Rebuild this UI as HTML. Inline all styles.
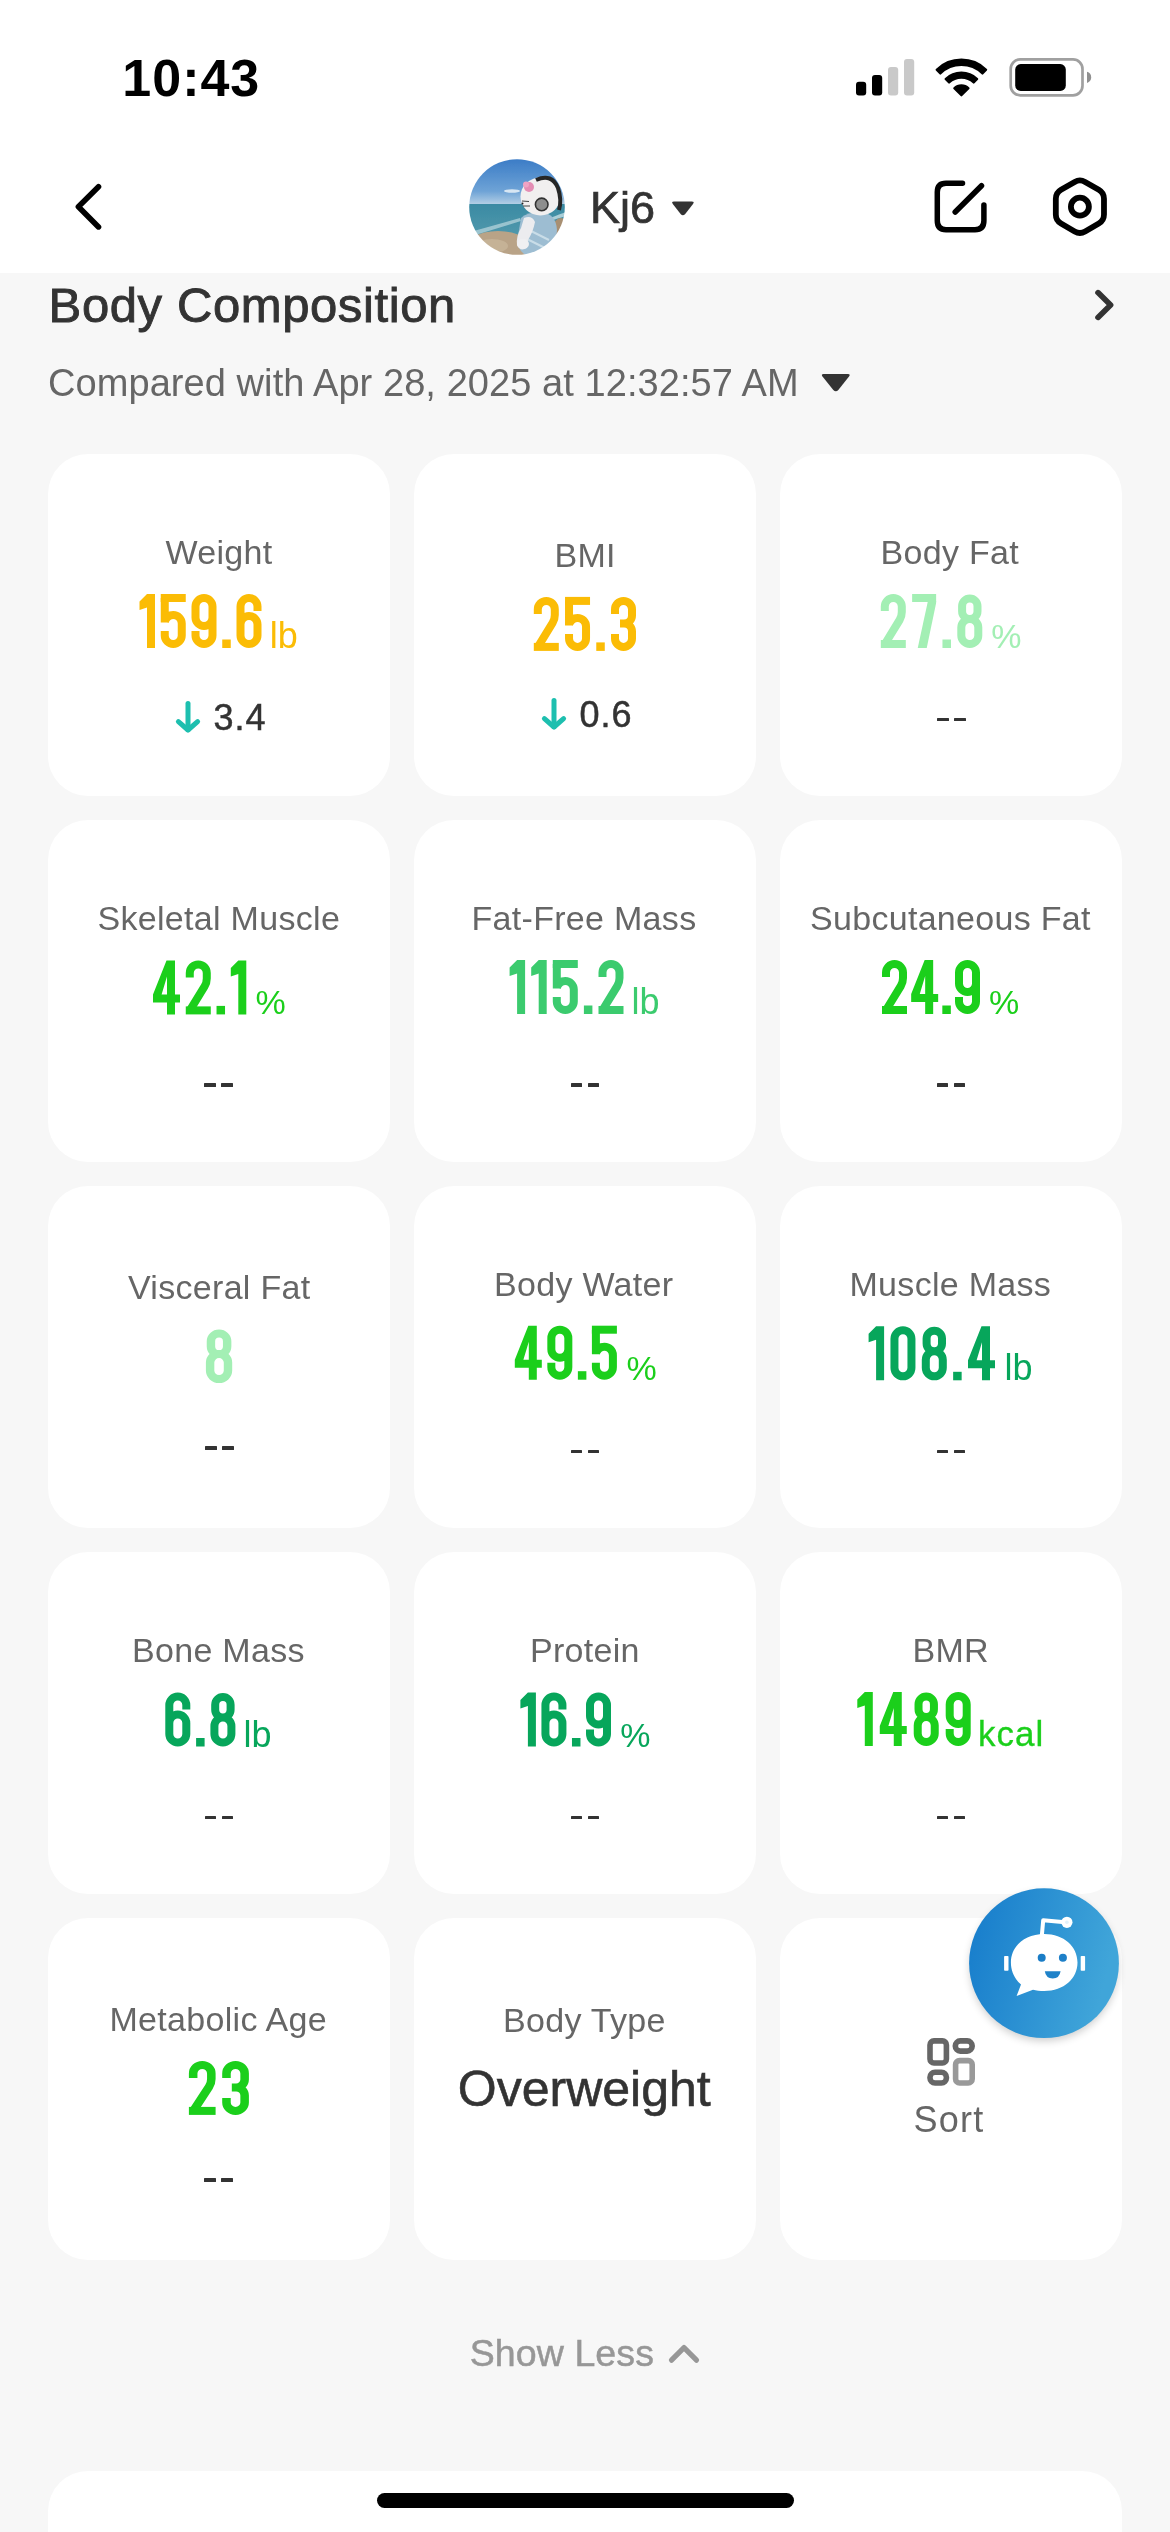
<!DOCTYPE html>
<html><head><meta charset="utf-8">
<style>
html,body{margin:0;padding:0;}
body{width:1170px;height:2532px;background:#F7F7F7;position:relative;overflow:hidden;font-family:"Liberation Sans",sans-serif;}
.t{position:absolute;white-space:nowrap;}
.card{position:absolute;width:342px;height:342px;background:#fff;border-radius:40px;}
.hdr{position:absolute;left:0;top:0;width:1170px;height:273px;background:#fff;}
.dash{position:absolute;width:11.5px;height:3.3px;background:#333;border-radius:0.5px;}
svg{position:absolute;overflow:visible;}
</style></head>
<body>
<div class="hdr"></div>
<div class="card" style="left:48px;top:454px"></div>
<div class="card" style="left:414px;top:454px"></div>
<div class="card" style="left:780px;top:454px"></div>
<div class="card" style="left:48px;top:820px"></div>
<div class="card" style="left:414px;top:820px"></div>
<div class="card" style="left:780px;top:820px"></div>
<div class="card" style="left:48px;top:1186px"></div>
<div class="card" style="left:414px;top:1186px"></div>
<div class="card" style="left:780px;top:1186px"></div>
<div class="card" style="left:48px;top:1552px"></div>
<div class="card" style="left:414px;top:1552px"></div>
<div class="card" style="left:780px;top:1552px"></div>
<div class="card" style="left:48px;top:1918px"></div>
<div class="card" style="left:414px;top:1918px"></div>
<div class="card" style="left:780px;top:1918px"></div>
<div class="card" style="left:48px;top:2471px;width:1074px;height:200px"></div>
<div class="dash" style="left:937.0px;top:717.95px"></div>
<div class="dash" style="left:954.0px;top:717.95px"></div>
<div class="dash" style="left:204.4px;top:1083.35px"></div>
<div class="dash" style="left:221.4px;top:1083.35px"></div>
<div class="dash" style="left:570.7px;top:1083.35px"></div>
<div class="dash" style="left:587.7px;top:1083.35px"></div>
<div class="dash" style="left:936.6px;top:1083.35px"></div>
<div class="dash" style="left:953.6px;top:1083.35px"></div>
<div class="dash" style="left:205.0px;top:1446.35px"></div>
<div class="dash" style="left:222.0px;top:1446.35px"></div>
<div class="dash" style="left:570.8px;top:1449.95px"></div>
<div class="dash" style="left:587.8px;top:1449.95px"></div>
<div class="dash" style="left:936.7px;top:1449.95px"></div>
<div class="dash" style="left:953.7px;top:1449.95px"></div>
<div class="dash" style="left:204.6px;top:1815.75px"></div>
<div class="dash" style="left:221.6px;top:1815.75px"></div>
<div class="dash" style="left:570.9px;top:1815.75px"></div>
<div class="dash" style="left:587.9px;top:1815.75px"></div>
<div class="dash" style="left:936.8px;top:1815.75px"></div>
<div class="dash" style="left:953.8px;top:1815.75px"></div>
<div class="dash" style="left:204.4px;top:2178.35px"></div>
<div class="dash" style="left:221.4px;top:2178.35px"></div>
<svg width="1170" height="2532" style="left:0;top:0" viewBox="0 0 1170 2532"><rect x="856" y="81.8" width="10.2" height="13.7" rx="3" fill="#000"/><rect x="872" y="75" width="10.2" height="20.5" rx="3" fill="#000"/><rect x="888" y="67" width="10.2" height="28.5" rx="3" fill="#C9C9C9"/><rect x="904" y="59" width="10.2" height="36.5" rx="3" fill="#C9C9C9"/><path d="M936.67,69.69 A35.6,35.6 0 0 1 986.13,69.69 L982.45,73.50 A30.3,30.3 0 0 0 940.35,73.50 Z M945.63,78.97 A22.7,22.7 0 0 1 977.17,78.97 L973.70,82.57 A17.7,17.7 0 0 0 949.10,82.57 Z" fill="#000" stroke="#000" stroke-width="2.2" stroke-linejoin="round"/><path d="M961.4,95.3 L954.3,88.2 A10,10 0 0 1 968.5,88.2 Z" fill="#000" stroke="#000" stroke-width="2.2" stroke-linejoin="round"/><rect x="1010.7" y="59.4" width="71.8" height="35.9" rx="9.5" fill="none" stroke="#A0A0A0" stroke-width="2.7"/><rect x="1015.2" y="64.1" width="50.6" height="26.8" rx="5.5" fill="#000"/><path d="M1087,71.8 Q1091.2,73 1091.2,77.3 Q1091.2,81.6 1087,82.9 Z" fill="#909090"/><path d="M98.5,186.8 L78.4,206.8 L98.5,226.9" fill="none" stroke="#000" stroke-width="5.6" stroke-linecap="round" stroke-linejoin="round"/><defs><clipPath id="avc"><circle cx="517" cy="207" r="47.8"/></clipPath>
<linearGradient id="sky" x1="0" y1="0" x2="0" y2="1"><stop offset="0" stop-color="#3B7CC6"/><stop offset="0.7" stop-color="#6EA3D6"/><stop offset="1" stop-color="#B7D1E6"/></linearGradient>
<linearGradient id="sea" x1="0" y1="0" x2="0" y2="1"><stop offset="0" stop-color="#3A8AA3"/><stop offset="1" stop-color="#5FA2B2"/></linearGradient>
<linearGradient id="fab" x1="0" y1="0" x2="1" y2="0.25"><stop offset="0" stop-color="#157BCB"/><stop offset="1" stop-color="#40A5D9"/></linearGradient>
<filter id="avblur" x="-10%" y="-10%" width="120%" height="120%"><feGaussianBlur stdDeviation="0.7"/></filter><filter id="blur6" x="-30%" y="-30%" width="160%" height="160%"><feGaussianBlur stdDeviation="4.5"/></filter>
</defs>
<g clip-path="url(#avc)"><g filter="url(#avblur)">
<rect x="469" y="159" width="96" height="46" fill="url(#sky)"/>
<rect x="469" y="204" width="96" height="52" fill="url(#sea)"/>
<ellipse cx="512" cy="191" rx="8" ry="1.8" fill="#EAF2F8" opacity="0.85"/>
<path d="M470,232 Q492,226 520,218 L521,221 Q495,229 472,236 Z" fill="#CFE3E8" opacity="0.6"/>
<path d="M550,218 Q560,214 566,212 L566,216 Q556,219 550,221 Z" fill="#D7E8EC" opacity="0.7"/>
<ellipse cx="498" cy="252" rx="36" ry="21" fill="#B9A387"/>
<ellipse cx="492" cy="246" rx="16" ry="7" fill="#CBB89C" opacity="0.7"/>
<ellipse cx="561" cy="228" rx="8" ry="10" fill="#A88F72"/>
<path d="M521,218 Q526,212 542,212 Q556,214 557,230 L555,250 Q540,260 524,254 Q516,248 518,236 Z" fill="#9DBDD2"/>
<path d="M529,230 L549,240 M527,239 L547,249" stroke="#C9DDE8" stroke-width="2"/>
<path d="M524,218 Q532,215 535,222 Q533,232 528,240 L527,248 Q520,252 517,245 Q516,236 521,228 Z" fill="#ECECEF"/>
<ellipse cx="523" cy="244" rx="6" ry="5" fill="#F0F0F2"/>
<ellipse cx="540.5" cy="196.5" rx="20" ry="19" fill="#F1EFEF"/>
<path d="M536,180 Q552,173 558,188 Q562,200 559,210" fill="none" stroke="#262626" stroke-width="4"/>
<circle cx="541.7" cy="204.4" r="6.3" fill="#8E8E8E" stroke="#333" stroke-width="1.6"/>
<circle cx="529" cy="187" r="5" fill="#E48DB4"/>
<circle cx="526" cy="184.5" r="3" fill="#EFA3C4"/>
<path d="M522,201 L529,201.5 M523,206 L530,206" stroke="#444" stroke-width="1"/>
<circle cx="522.5" cy="203.5" r="1" fill="#222"/>
</g></g><path d="M674,201.6 L691.8,201.6 Q694.8,201.6 693,204 L685,214.2 Q682.9,216.4 680.8,214.2 L672.8,204 Q671,201.6 674,201.6 Z" fill="#333"/><path d="M962.5,183.2 L946,183.2 Q937.3,183.2 937.3,192 L937.3,220.8 Q937.3,229.7 946,229.7 L975,229.7 Q983.9,229.7 983.9,220.8 L983.9,205" fill="none" stroke="#000" stroke-width="5.5" stroke-linecap="round" stroke-linejoin="round"/><path d="M955.2,212 L981.5,185.7" fill="none" stroke="#000" stroke-width="5.5" stroke-linecap="round"/><path d="M1085.10,181.90 L1098.78,189.80 Q1103.98,192.80 1103.98,198.80 L1103.98,214.60 Q1103.98,220.60 1098.78,223.60 L1085.10,231.50 Q1079.90,234.50 1074.70,231.50 L1061.02,223.60 Q1055.82,220.60 1055.82,214.60 L1055.82,198.80 Q1055.82,192.80 1061.02,189.80 L1074.70,181.90 Q1079.90,178.90 1085.10,181.90 Z" fill="none" stroke="#000" stroke-width="5.8" stroke-linejoin="round"/><circle cx="1079.9" cy="206.7" r="9" fill="none" stroke="#000" stroke-width="5.8"/><path d="M1098,292.6 L1110.6,305 L1098,317.4" fill="none" stroke="#333" stroke-width="5.6" stroke-linecap="round" stroke-linejoin="round"/><path d="M823.5,374 L848,374 Q850.8,374 849,376.5 L838.3,390 Q835.8,392.5 833.3,390 L822.5,376.5 Q820.8,374 823.5,374 Z" fill="#333"/><path d="M188,703.5 L188,729.8" fill="none" stroke="#1DBFAF" stroke-width="5" stroke-linecap="round"/><path d="M178.4,721.6 L188,730.0 L197.6,721.6" fill="none" stroke="#1DBFAF" stroke-width="5" stroke-linecap="round" stroke-linejoin="round"/><path d="M554,700.5 L554,726.8" fill="none" stroke="#1DBFAF" stroke-width="5" stroke-linecap="round"/><path d="M544.4,718.6 L554,727.0 L563.6,718.6" fill="none" stroke="#1DBFAF" stroke-width="5" stroke-linecap="round" stroke-linejoin="round"/><rect x="930" y="2040.9" width="16.4" height="22.1" rx="4" fill="none" stroke="#666" stroke-width="5.6"/><rect x="955.3" y="2040.9" width="16.9" height="10.2" rx="5" fill="none" stroke="#666" stroke-width="5.6"/><rect x="930" y="2072.2" width="16.4" height="10.8" rx="5" fill="none" stroke="#666" stroke-width="5.6"/><rect x="955.6" y="2060.6" width="16.6" height="22.4" rx="4" fill="none" stroke="#999" stroke-width="5.6"/><circle cx="1044" cy="1967" r="74" fill="#000" opacity="0.2" filter="url(#blur6)"/>
<circle cx="1044" cy="1963.2" r="74.9" fill="url(#fab)"/>
<g fill="#fff">
<path d="M1044.2,1934 C1064,1934 1077.5,1946.5 1077.5,1962.5 C1077.5,1978.5 1064,1991 1044.2,1991 C1040,1991 1036,1990.5 1033,1989.7 L1016.6,1995.9 L1021,1984.5 C1014.5,1979 1010.9,1971 1010.9,1962.5 C1010.9,1946.5 1024.4,1934 1044.2,1934 Z"/>
<rect x="1004.1" y="1956" width="4.4" height="14.7" rx="0.8"/>
<rect x="1080.7" y="1956" width="4.4" height="14.7" rx="0.8"/>
</g>
<path d="M1041.8,1936 L1043.2,1920.3 L1065,1922.2" fill="none" stroke="#fff" stroke-width="4" stroke-linejoin="round"/>
<circle cx="1066.9" cy="1922.3" r="5.6" fill="#fff"/>
<circle cx="1066.9" cy="1922.3" r="1.8" fill="#E3F1FA"/>
<circle cx="1041.7" cy="1957.7" r="4" fill="#1A7DC6"/>
<circle cx="1062.9" cy="1957.7" r="4" fill="#1E80C8"/>
<path d="M1044.8,1971.3 L1060.6,1971.3 Q1059.5,1978.5 1052.7,1978.5 Q1045.9,1978.5 1044.8,1971.3 Z" fill="#1F82C9"/>
<path d="M671.5,2360.2 L684,2347.6 L696.5,2360.2" fill="none" stroke="#979797" stroke-width="5.2" stroke-linecap="round" stroke-linejoin="round"/></svg>
<div style="position:absolute;left:377px;top:2493px;width:417px;height:15px;border-radius:7.5px;background:#000"></div><svg width="1170" height="2532" style="left:0;top:0"><g transform="translate(139.50,594.00) scale(1.0000,1.0000)"><path fill="#FBBC05" d="M7.5,0 L15.5,0 L15.5,54 L7.5,54 L7.5,13.5 L0,16 L0,7.5 Z"/></g><g transform="translate(160.75,594.00) scale(1.0000,1.0000)"><rect fill="#FBBC05" x="0" y="0" width="25" height="8"/><path fill="none" stroke="#FBBC05" stroke-width="8" stroke-linecap="butt" stroke-linejoin="miter" d="M4,4 L4,28.5 M4,27.5 C5.5,23.5 8.5,21 12.5,21 A8.5,8.5 0 0 1 21,29.5 L21,41.5 A8.5,8.5 0 0 1 4,41.5 L4,37"/></g><g transform="translate(191.50,594.00) scale(1.0000,1.0000)"><path fill="none" stroke="#FBBC05" stroke-width="8" stroke-linecap="butt" stroke-linejoin="miter" transform="rotate(180 12.5 27)" d="M21,17 L21,12.5 A8.5,8.5 0 0 0 4,12.5 L4,41.5 A8.5,8.5 0 0 0 21,41.5 L21,30.5 A8.5,8.5 0 0 0 4,30.5"/></g><g transform="translate(222.25,594.00) scale(1.0000,1.0000)"><rect fill="#FBBC05" x="0" y="45.5" width="8.5" height="8.5"/></g><g transform="translate(236.50,594.00) scale(1.0000,1.0000)"><path fill="none" stroke="#FBBC05" stroke-width="8" stroke-linecap="butt" stroke-linejoin="miter" d="M21,17 L21,12.5 A8.5,8.5 0 0 0 4,12.5 L4,41.5 A8.5,8.5 0 0 0 21,41.5 L21,30.5 A8.5,8.5 0 0 0 4,30.5"/></g><g transform="translate(533.80,596.90) scale(1.0000,1.0000)"><path fill="none" stroke="#FBBC05" stroke-width="8" stroke-linecap="butt" stroke-linejoin="miter" d="M4,17 L4,12.5 A8.5,8.5 0 0 1 21,12.5 L21,18 Q21,22.5 18.8,26 L3.8,50.5"/><rect fill="#FBBC05" x="0" y="46" width="25" height="8"/></g><g transform="translate(565.03,596.90) scale(1.0000,1.0000)"><rect fill="#FBBC05" x="0" y="0" width="25" height="8"/><path fill="none" stroke="#FBBC05" stroke-width="8" stroke-linecap="butt" stroke-linejoin="miter" d="M4,4 L4,28.5 M4,27.5 C5.5,23.5 8.5,21 12.5,21 A8.5,8.5 0 0 1 21,29.5 L21,41.5 A8.5,8.5 0 0 1 4,41.5 L4,37"/></g><g transform="translate(596.27,596.90) scale(1.0000,1.0000)"><rect fill="#FBBC05" x="0" y="45.5" width="8.5" height="8.5"/></g><g transform="translate(611.00,596.90) scale(1.0000,1.0000)"><path fill="none" stroke="#FBBC05" stroke-width="8" stroke-linecap="butt" stroke-linejoin="miter" d="M4,17 L4,12.5 A8.5,8.5 0 0 1 21,12.5 L21,18.5 A8,8 0 0 1 13,26.5 L9,26.5 M13,26.5 A8,8 0 0 1 21,34.5 L21,41.5 A8.5,8.5 0 0 1 4,41.5 L4,37"/></g><g transform="translate(880.80,594.00) scale(1.0000,1.0000)"><path fill="none" stroke="#A3EFB4" stroke-width="8" stroke-linecap="butt" stroke-linejoin="miter" d="M4,17 L4,12.5 A8.5,8.5 0 0 1 21,12.5 L21,18 Q21,22.5 18.8,26 L3.8,50.5"/><rect fill="#A3EFB4" x="0" y="46" width="25" height="8"/></g><g transform="translate(912.13,594.00) scale(1.0000,1.0000)"><rect fill="#A3EFB4" x="0" y="0" width="24" height="8"/><path fill="#A3EFB4" d="M15.8,7 L24,7 L24,9 L14.6,54 L5.6,54 Z"/></g><g transform="translate(942.47,594.00) scale(1.0000,1.0000)"><rect fill="#A3EFB4" x="0" y="45.5" width="8.5" height="8.5"/></g><g transform="translate(957.30,594.00) scale(1.0000,1.0000)"><path fill="none" stroke="#A3EFB4" stroke-width="8" stroke-linecap="butt" stroke-linejoin="miter" d="M4.8,12.2 A7.7,7.7 0 0 1 20.2,12.2 L20.2,17.3 A7.7,7.7 0 0 1 4.8,17.3 Z M4,33.5 A8.5,8.5 0 0 1 21,33.5 L21,41.5 A8.5,8.5 0 0 1 4,41.5 Z"/></g><g transform="translate(153.00,960.40) scale(1.0000,1.0000)"><path fill="#1BCF1B" fill-rule="evenodd" d="M13.5,0 L22,0 L22,34 L27,34 L27,42 L22,42 L22,54 L14,54 L14,42 L0,42 L0,34 Z M8.6,34 L14,34 L14,16 Z"/></g><g transform="translate(185.77,960.40) scale(1.0000,1.0000)"><path fill="none" stroke="#1BCF1B" stroke-width="8" stroke-linecap="butt" stroke-linejoin="miter" d="M4,17 L4,12.5 A8.5,8.5 0 0 1 21,12.5 L21,18 Q21,22.5 18.8,26 L3.8,50.5"/><rect fill="#1BCF1B" x="0" y="46" width="25" height="8"/></g><g transform="translate(216.53,960.40) scale(1.0000,1.0000)"><rect fill="#1BCF1B" x="0" y="45.5" width="8.5" height="8.5"/></g><g transform="translate(230.80,960.40) scale(1.0000,1.0000)"><path fill="#1BCF1B" d="M7.5,0 L15.5,0 L15.5,54 L7.5,54 L7.5,13.5 L0,16 L0,7.5 Z"/></g><g transform="translate(509.60,960.00) scale(1.0000,1.0000)"><path fill="#3BCB6E" d="M7.5,0 L15.5,0 L15.5,54 L7.5,54 L7.5,13.5 L0,16 L0,7.5 Z"/></g><g transform="translate(531.20,960.00) scale(1.0000,1.0000)"><path fill="#3BCB6E" d="M7.5,0 L15.5,0 L15.5,54 L7.5,54 L7.5,13.5 L0,16 L0,7.5 Z"/></g><g transform="translate(552.80,960.00) scale(1.0000,1.0000)"><rect fill="#3BCB6E" x="0" y="0" width="25" height="8"/><path fill="none" stroke="#3BCB6E" stroke-width="8" stroke-linecap="butt" stroke-linejoin="miter" d="M4,4 L4,28.5 M4,27.5 C5.5,23.5 8.5,21 12.5,21 A8.5,8.5 0 0 1 21,29.5 L21,41.5 A8.5,8.5 0 0 1 4,41.5 L4,37"/></g><g transform="translate(583.90,960.00) scale(1.0000,1.0000)"><rect fill="#3BCB6E" x="0" y="45.5" width="8.5" height="8.5"/></g><g transform="translate(598.50,960.00) scale(1.0000,1.0000)"><path fill="none" stroke="#3BCB6E" stroke-width="8" stroke-linecap="butt" stroke-linejoin="miter" d="M4,17 L4,12.5 A8.5,8.5 0 0 1 21,12.5 L21,18 Q21,22.5 18.8,26 L3.8,50.5"/><rect fill="#3BCB6E" x="0" y="46" width="25" height="8"/></g><g transform="translate(882.00,960.00) scale(1.0000,1.0000)"><path fill="none" stroke="#1BCF1B" stroke-width="8" stroke-linecap="butt" stroke-linejoin="miter" d="M4,17 L4,12.5 A8.5,8.5 0 0 1 21,12.5 L21,18 Q21,22.5 18.8,26 L3.8,50.5"/><rect fill="#1BCF1B" x="0" y="46" width="25" height="8"/></g><g transform="translate(911.17,960.00) scale(1.0000,1.0000)"><path fill="#1BCF1B" fill-rule="evenodd" d="M13.5,0 L22,0 L22,34 L27,34 L27,42 L22,42 L22,54 L14,54 L14,42 L0,42 L0,34 Z M8.6,34 L14,34 L14,16 Z"/></g><g transform="translate(942.33,960.00) scale(1.0000,1.0000)"><rect fill="#1BCF1B" x="0" y="45.5" width="8.5" height="8.5"/></g><g transform="translate(955.00,960.00) scale(1.0000,1.0000)"><path fill="none" stroke="#1BCF1B" stroke-width="8" stroke-linecap="butt" stroke-linejoin="miter" transform="rotate(180 12.5 27)" d="M21,17 L21,12.5 A8.5,8.5 0 0 0 4,12.5 L4,41.5 A8.5,8.5 0 0 0 21,41.5 L21,30.5 A8.5,8.5 0 0 0 4,30.5"/></g><g transform="translate(205.90,1329.10) scale(1.0520,1.0000)"><path fill="none" stroke="#A3EFB4" stroke-width="8" stroke-linecap="butt" stroke-linejoin="miter" d="M4.8,12.2 A7.7,7.7 0 0 1 20.2,12.2 L20.2,17.3 A7.7,7.7 0 0 1 4.8,17.3 Z M4,33.5 A8.5,8.5 0 0 1 21,33.5 L21,41.5 A8.5,8.5 0 0 1 4,41.5 Z"/></g><g transform="translate(514.80,1325.70) scale(1.0000,1.0000)"><path fill="#1BCF1B" fill-rule="evenodd" d="M13.5,0 L22,0 L22,34 L27,34 L27,42 L22,42 L22,54 L14,54 L14,42 L0,42 L0,34 Z M8.6,34 L14,34 L14,16 Z"/></g><g transform="translate(547.33,1325.70) scale(1.0000,1.0000)"><path fill="none" stroke="#1BCF1B" stroke-width="8" stroke-linecap="butt" stroke-linejoin="miter" transform="rotate(180 12.5 27)" d="M21,17 L21,12.5 A8.5,8.5 0 0 0 4,12.5 L4,41.5 A8.5,8.5 0 0 0 21,41.5 L21,30.5 A8.5,8.5 0 0 0 4,30.5"/></g><g transform="translate(577.87,1325.70) scale(1.0000,1.0000)"><rect fill="#1BCF1B" x="0" y="45.5" width="8.5" height="8.5"/></g><g transform="translate(591.90,1325.70) scale(1.0000,1.0000)"><rect fill="#1BCF1B" x="0" y="0" width="25" height="8"/><path fill="none" stroke="#1BCF1B" stroke-width="8" stroke-linecap="butt" stroke-linejoin="miter" d="M4,4 L4,28.5 M4,27.5 C5.5,23.5 8.5,21 12.5,21 A8.5,8.5 0 0 1 21,29.5 L21,41.5 A8.5,8.5 0 0 1 4,41.5 L4,37"/></g><g transform="translate(868.60,1326.30) scale(1.0000,1.0000)"><path fill="#07A65B" d="M7.5,0 L15.5,0 L15.5,54 L7.5,54 L7.5,13.5 L0,16 L0,7.5 Z"/></g><g transform="translate(890.45,1326.30) scale(1.0000,1.0000)"><path fill="none" stroke="#07A65B" stroke-width="8" stroke-linecap="butt" stroke-linejoin="miter" d="M4,12.5 A8.5,8.5 0 0 1 21,12.5 L21,41.5 A8.5,8.5 0 0 1 4,41.5 Z"/></g><g transform="translate(921.80,1326.30) scale(1.0000,1.0000)"><path fill="none" stroke="#07A65B" stroke-width="8" stroke-linecap="butt" stroke-linejoin="miter" d="M4.8,12.2 A7.7,7.7 0 0 1 20.2,12.2 L20.2,17.3 A7.7,7.7 0 0 1 4.8,17.3 Z M4,33.5 A8.5,8.5 0 0 1 21,33.5 L21,41.5 A8.5,8.5 0 0 1 4,41.5 Z"/></g><g transform="translate(953.15,1326.30) scale(1.0000,1.0000)"><rect fill="#07A65B" x="0" y="45.5" width="8.5" height="8.5"/></g><g transform="translate(968.00,1326.30) scale(1.0000,1.0000)"><path fill="#07A65B" fill-rule="evenodd" d="M13.5,0 L22,0 L22,34 L27,34 L27,42 L22,42 L22,54 L14,54 L14,42 L0,42 L0,34 Z M8.6,34 L14,34 L14,16 Z"/></g><g transform="translate(165.30,1692.50) scale(1.0000,1.0000)"><path fill="none" stroke="#07A65B" stroke-width="8" stroke-linecap="butt" stroke-linejoin="miter" d="M21,17 L21,12.5 A8.5,8.5 0 0 0 4,12.5 L4,41.5 A8.5,8.5 0 0 0 21,41.5 L21,30.5 A8.5,8.5 0 0 0 4,30.5"/></g><g transform="translate(196.10,1692.50) scale(1.0000,1.0000)"><rect fill="#07A65B" x="0" y="45.5" width="8.5" height="8.5"/></g><g transform="translate(210.40,1692.50) scale(1.0000,1.0000)"><path fill="none" stroke="#07A65B" stroke-width="8" stroke-linecap="butt" stroke-linejoin="miter" d="M4.8,12.2 A7.7,7.7 0 0 1 20.2,12.2 L20.2,17.3 A7.7,7.7 0 0 1 4.8,17.3 Z M4,33.5 A8.5,8.5 0 0 1 21,33.5 L21,41.5 A8.5,8.5 0 0 1 4,41.5 Z"/></g><g transform="translate(520.40,1692.50) scale(1.0000,1.0000)"><path fill="#07A65B" d="M7.5,0 L15.5,0 L15.5,54 L7.5,54 L7.5,13.5 L0,16 L0,7.5 Z"/></g><g transform="translate(541.43,1692.50) scale(1.0000,1.0000)"><path fill="none" stroke="#07A65B" stroke-width="8" stroke-linecap="butt" stroke-linejoin="miter" d="M21,17 L21,12.5 A8.5,8.5 0 0 0 4,12.5 L4,41.5 A8.5,8.5 0 0 0 21,41.5 L21,30.5 A8.5,8.5 0 0 0 4,30.5"/></g><g transform="translate(571.97,1692.50) scale(1.0000,1.0000)"><rect fill="#07A65B" x="0" y="45.5" width="8.5" height="8.5"/></g><g transform="translate(586.00,1692.50) scale(1.0000,1.0000)"><path fill="none" stroke="#07A65B" stroke-width="8" stroke-linecap="butt" stroke-linejoin="miter" transform="rotate(180 12.5 27)" d="M21,17 L21,12.5 A8.5,8.5 0 0 0 4,12.5 L4,41.5 A8.5,8.5 0 0 0 21,41.5 L21,30.5 A8.5,8.5 0 0 0 4,30.5"/></g><g transform="translate(857.30,1692.00) scale(1.0000,1.0000)"><path fill="#1BCF1B" d="M7.5,0 L15.5,0 L15.5,54 L7.5,54 L7.5,13.5 L0,16 L0,7.5 Z"/></g><g transform="translate(879.77,1692.00) scale(1.0000,1.0000)"><path fill="#1BCF1B" fill-rule="evenodd" d="M13.5,0 L22,0 L22,34 L27,34 L27,42 L22,42 L22,54 L14,54 L14,42 L0,42 L0,34 Z M8.6,34 L14,34 L14,16 Z"/></g><g transform="translate(913.73,1692.00) scale(1.0000,1.0000)"><path fill="none" stroke="#1BCF1B" stroke-width="8" stroke-linecap="butt" stroke-linejoin="miter" d="M4.8,12.2 A7.7,7.7 0 0 1 20.2,12.2 L20.2,17.3 A7.7,7.7 0 0 1 4.8,17.3 Z M4,33.5 A8.5,8.5 0 0 1 21,33.5 L21,41.5 A8.5,8.5 0 0 1 4,41.5 Z"/></g><g transform="translate(945.70,1692.00) scale(1.0000,1.0000)"><path fill="none" stroke="#1BCF1B" stroke-width="8" stroke-linecap="butt" stroke-linejoin="miter" transform="rotate(180 12.5 27)" d="M21,17 L21,12.5 A8.5,8.5 0 0 0 4,12.5 L4,41.5 A8.5,8.5 0 0 0 21,41.5 L21,30.5 A8.5,8.5 0 0 0 4,30.5"/></g><g transform="translate(188.90,2060.90) scale(1.0680,1.0000)"><path fill="none" stroke="#1BCF1B" stroke-width="8" stroke-linecap="butt" stroke-linejoin="miter" d="M4,17 L4,12.5 A8.5,8.5 0 0 1 21,12.5 L21,18 Q21,22.5 18.8,26 L3.8,50.5"/><rect fill="#1BCF1B" x="0" y="46" width="25" height="8"/></g><g transform="translate(222.20,2060.90) scale(1.0680,1.0000)"><path fill="none" stroke="#1BCF1B" stroke-width="8" stroke-linecap="butt" stroke-linejoin="miter" d="M4,17 L4,12.5 A8.5,8.5 0 0 1 21,12.5 L21,18.5 A8,8 0 0 1 13,26.5 L9,26.5 M13,26.5 A8,8 0 0 1 21,34.5 L21,41.5 A8.5,8.5 0 0 1 4,41.5 L4,37"/></g></svg>
<div style="position:absolute;left:0;top:0;width:1170px;height:2532px;will-change:transform">
<div class=t style="left:122.3px;top:51.5px;color:#000;font-family:'Liberation Sans';font-size:52px;line-height:52px;font-weight:700;white-space:nowrap;letter-spacing:1px;">10:43</div>
<div class=t style="left:590.0px;top:184.8px;color:#333333;font-family:'Liberation Sans';font-size:45px;line-height:45px;font-weight:400;white-space:nowrap;-webkit-text-stroke:0.7px #333333;">Kj6</div>
<div class=t style="left:48.6px;top:280.8px;color:#333333;font-family:'Liberation Sans';font-size:49px;line-height:49px;font-weight:400;white-space:nowrap;letter-spacing:0.6px;-webkit-text-stroke:0.9px #333333;">Body Composition</div>
<div class=t style="left:48.0px;top:363.5px;color:#666666;font-family:'Liberation Sans';font-size:38px;line-height:38px;font-weight:400;white-space:nowrap;letter-spacing:0.07px;">Compared with Apr 28, 2025 at 12:32:57 AM</div>
<div class=t style="left:165.5px;top:534.5px;color:#666666;font-family:'Liberation Sans';font-size:34px;line-height:34px;font-weight:400;white-space:nowrap;letter-spacing:0.3px;">Weight</div>
<div class=t style="left:554.5px;top:537.5px;color:#666666;font-family:'Liberation Sans';font-size:34px;line-height:34px;font-weight:400;white-space:nowrap;letter-spacing:0.3px;">BMI</div>
<div class=t style="left:880.5px;top:534.5px;color:#666666;font-family:'Liberation Sans';font-size:34px;line-height:34px;font-weight:400;white-space:nowrap;letter-spacing:0.3px;">Body Fat</div>
<div class=t style="left:97.5px;top:900.5px;color:#666666;font-family:'Liberation Sans';font-size:34px;line-height:34px;font-weight:400;white-space:nowrap;letter-spacing:0.3px;">Skeletal Muscle</div>
<div class=t style="left:471.5px;top:900.5px;color:#666666;font-family:'Liberation Sans';font-size:34px;line-height:34px;font-weight:400;white-space:nowrap;letter-spacing:0.3px;">Fat-Free Mass</div>
<div class=t style="left:810.0px;top:900.5px;color:#666666;font-family:'Liberation Sans';font-size:34px;line-height:34px;font-weight:400;white-space:nowrap;letter-spacing:0.3px;">Subcutaneous Fat</div>
<div class=t style="left:128.0px;top:1269.5px;color:#666666;font-family:'Liberation Sans';font-size:34px;line-height:34px;font-weight:400;white-space:nowrap;letter-spacing:0.3px;">Visceral Fat</div>
<div class=t style="left:494.0px;top:1266.5px;color:#666666;font-family:'Liberation Sans';font-size:34px;line-height:34px;font-weight:400;white-space:nowrap;letter-spacing:0.3px;">Body Water</div>
<div class=t style="left:849.5px;top:1266.5px;color:#666666;font-family:'Liberation Sans';font-size:34px;line-height:34px;font-weight:400;white-space:nowrap;letter-spacing:0.3px;">Muscle Mass</div>
<div class=t style="left:132.0px;top:1632.5px;color:#666666;font-family:'Liberation Sans';font-size:34px;line-height:34px;font-weight:400;white-space:nowrap;letter-spacing:0.3px;">Bone Mass</div>
<div class=t style="left:530.0px;top:1632.5px;color:#666666;font-family:'Liberation Sans';font-size:34px;line-height:34px;font-weight:400;white-space:nowrap;letter-spacing:0.3px;">Protein</div>
<div class=t style="left:912.5px;top:1632.5px;color:#666666;font-family:'Liberation Sans';font-size:34px;line-height:34px;font-weight:400;white-space:nowrap;letter-spacing:0.3px;">BMR</div>
<div class=t style="left:109.5px;top:2001.5px;color:#666666;font-family:'Liberation Sans';font-size:34px;line-height:34px;font-weight:400;white-space:nowrap;letter-spacing:0.3px;">Metabolic Age</div>
<div class=t style="left:503.0px;top:2002.6px;color:#666666;font-family:'Liberation Sans';font-size:34px;line-height:34px;font-weight:400;white-space:nowrap;letter-spacing:0.3px;">Body Type</div>
<div class=t style="left:269.8px;top:618.0px;color:#FBBC05;font-family:'Liberation Sans';font-size:36px;line-height:36px;font-weight:400;white-space:nowrap;">lb</div>
<div class=t style="left:991.3px;top:619.0px;color:#A3EFB4;font-family:'Liberation Sans';font-size:34px;line-height:34px;font-weight:400;white-space:nowrap;">%</div>
<div class=t style="left:255.6px;top:985.4px;color:#1BCF1B;font-family:'Liberation Sans';font-size:34px;line-height:34px;font-weight:400;white-space:nowrap;">%</div>
<div class=t style="left:631.5px;top:984.0px;color:#3BCB6E;font-family:'Liberation Sans';font-size:36px;line-height:36px;font-weight:400;white-space:nowrap;">lb</div>
<div class=t style="left:989.0px;top:985.0px;color:#1BCF1B;font-family:'Liberation Sans';font-size:34px;line-height:34px;font-weight:400;white-space:nowrap;">%</div>
<div class=t style="left:626.6px;top:1350.7px;color:#1BCF1B;font-family:'Liberation Sans';font-size:34px;line-height:34px;font-weight:400;white-space:nowrap;">%</div>
<div class=t style="left:1004.4px;top:1350.3px;color:#07A65B;font-family:'Liberation Sans';font-size:36px;line-height:36px;font-weight:400;white-space:nowrap;">lb</div>
<div class=t style="left:243.6px;top:1716.5px;color:#07A65B;font-family:'Liberation Sans';font-size:36px;line-height:36px;font-weight:400;white-space:nowrap;">lb</div>
<div class=t style="left:620.3px;top:1717.5px;color:#07A65B;font-family:'Liberation Sans';font-size:34px;line-height:34px;font-weight:400;white-space:nowrap;">%</div>
<div class=t style="left:978.0px;top:1716.0px;color:#1BCF1B;font-family:'Liberation Sans';font-size:35px;line-height:35px;font-weight:400;white-space:nowrap;letter-spacing:1.0px;-webkit-text-stroke:0.3px #1BCF1B;">kcal</div>
<div class=t style="left:213.4px;top:700.0px;color:#333333;font-family:'Liberation Sans';font-size:36px;line-height:36px;font-weight:400;white-space:nowrap;letter-spacing:1px;-webkit-text-stroke:0.5px #333333;">3.4</div>
<div class=t style="left:579.4px;top:697.4px;color:#333333;font-family:'Liberation Sans';font-size:36px;line-height:36px;font-weight:400;white-space:nowrap;letter-spacing:1px;-webkit-text-stroke:0.5px #333333;">0.6</div>
<div class=t style="left:457.8px;top:2064.0px;color:#333333;font-family:'Liberation Sans';font-size:50px;line-height:50px;font-weight:400;white-space:nowrap;-webkit-text-stroke:0.6px #333333;">Overweight</div>
<div class=t style="left:913.6px;top:2101.8px;color:#666666;font-family:'Liberation Sans';font-size:36px;line-height:36px;font-weight:400;white-space:nowrap;letter-spacing:1.2px;">Sort</div>
<div class=t style="left:469.7px;top:2335.2px;color:#979797;font-family:'Liberation Sans';font-size:37.5px;line-height:37.5px;font-weight:400;white-space:nowrap;letter-spacing:0.1px;-webkit-text-stroke:0.5px #979797;">Show Less</div>
</div>
</body></html>
